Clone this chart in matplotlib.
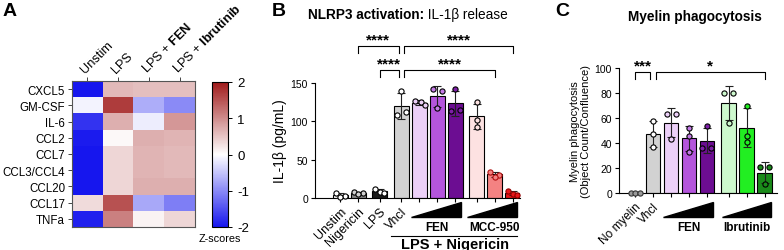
import numpy as np
import matplotlib
matplotlib.use("Agg")
import matplotlib.pyplot as plt
from matplotlib.colors import LinearSegmentedColormap
from matplotlib.patches import Polygon
import matplotlib.transforms as mtransforms

plt.rcParams['font.family'] = ['Liberation Sans', 'DejaVu Sans']
plt.rcParams['mathtext.fontset'] = 'custom'
plt.rcParams['mathtext.rm'] = 'Liberation Sans'
plt.rcParams['mathtext.bf'] = 'Liberation Sans:bold'
plt.rcParams['axes.linewidth'] = 0.8

# ---------------- data: panel A ----------------
heat_rows = ["CXCL5", "GM-CSF", "IL-6", "CCL2", "CCL7", "CCL3/CCL4", "CCL20", "CCL17", "TNFa"]
heat_cols = ["Unstim", "LPS", "LPS + $\\bf{FEN}$", "LPS + $\\bf{Ibrutinib}$"]
z_unstim = [-2.0, -0.1, -1.75, -1.95, -2.0, -2.0, -2.0, 0.3, -1.9]
z_lps = [0.6, 1.7, 0.7, 0.05, 0.35, 0.35, 0.35, 1.5, 1.1]
z_fen = [0.55, -0.7, -0.15, 0.7, 0.65, 0.65, 0.7, -0.75, 0.1]
z_ibr = [0.55, -1.0, 0.9, 0.65, 0.6, 0.6, 0.7, -1.1, 0.35]

# ---------------- data: panel B ----------------
b_labels = ["Unstim", "Nigericin", "LPS", "Vhcl", "", "", "", "", "", ""]
b_points = [
    [7, 2, 1],
    [8, 7, 5],
    [12, 8, 7],
    [139, 108, 112],
    [127, 125, 121],
    [142, 139, 117],
    [142, 113, 115],
    [125, 102, 93],
    [34, 30, 28],
    [9, 5, 4],
]
b_sig = [("****", 1, 3, "upper"), ("****", 3, 9, "upper"),
         ("****", 2, 3, "lower"), ("****", 3, 8, "lower")]

# ---------------- data: panel C ----------------
c_labels = ["No myelin", "Vhcl", "", "", "", "", "", ""]
c_points = [
    [0, 0, 0],
    [58, 47, 37],
    [63, 63, 43],
    [52, 46, 33],
    [54, 36, 36],
    [80, 80, 56],
    [70, 46, 41],
    [21, 21, 7],
]
c_sig = [("***", 0, 1), ("*", 1, 7)]

# ---------------- layout / style ----------------
W, H = 784, 251
fig = plt.figure(figsize=(W / 100, H / 100), dpi=100)


def box(x0, y0, x1, y1):
    return [x0 / W, 1 - y1 / H, (x1 - x0) / W, (y1 - y0) / H]


def fy(ypx):
    return 1 - ypx / H


# ===== Panel A =====
axA = fig.add_axes(box(72, 82, 195, 228))
cmap = LinearSegmentedColormap.from_list("zs", ["#1616ee", "#ffffff", "#a01a1a"])
Z = np.array([z_unstim, z_lps, z_fen, z_ibr]).T
im = axA.imshow(Z, cmap=cmap, vmin=-2, vmax=2, aspect="auto", interpolation="nearest")
axA.set_yticks(range(len(heat_rows)))
axA.set_yticklabels(heat_rows, fontsize=8.3)
axA.set_xticks(range(len(heat_cols)))
axA.xaxis.tick_top()
axA.set_xticklabels(heat_cols, fontsize=9.2, rotation=45, ha="left", va="bottom",
                    rotation_mode="anchor")
axA.tick_params(length=3, width=0.7, color="#444444", pad=2)
axA.tick_params(axis="x", pad=1.5)
for s in axA.spines.values():
    s.set_color("#555555")
    s.set_linewidth(0.8)

cax = fig.add_axes(box(212, 83, 228, 228))
cb = fig.colorbar(im, cax=cax, ticks=[-2, -1, 0, 1, 2])
cb.ax.tick_params(labelsize=9.5, length=3, width=0.7)
cb.ax.set_yticklabels(["-2", "-1", "0", "1", "2"])
cb.outline.set_linewidth(0.8)
fig.text(220 / W, fy(239), "Z-scores", fontsize=7.8, ha="center", va="center")
fig.text(3 / W, fy(11), "A", fontsize=14, fontweight="bold", ha="left", va="center")


def bar_panel(ax, pos, pts, bar_cols, pt_cols, pt_edge, offsets, width):
    means = [np.mean(p) for p in pts]
    sds = [np.std(p, ddof=1) for p in pts]
    for i, (x, m, s) in enumerate(zip(pos, means, sds)):
        ax.bar(x, m, width=width, color=bar_cols[i], edgecolor="black", linewidth=0.8, zorder=2)
        ax.errorbar(x, m, yerr=s, color="#222222", capsize=3, elinewidth=0.8,
                    capthick=0.8, zorder=3, fmt="none")
        ax.scatter(np.array(offsets[i]) + x, pts[i], s=14, facecolor=pt_cols[i],
                   edgecolor=pt_edge[i], linewidth=0.8, zorder=4, clip_on=False)
    return means, sds


def wedge(ax, x0, x1, y_base, y_top):
    tr = mtransforms.blended_transform_factory(ax.transData, fig.transFigure)
    p = Polygon([[x0, fy(y_base)], [x1, fy(y_base)], [x1, fy(y_top)]], closed=True,
                facecolor="black", edgecolor="black", transform=tr, clip_on=False)
    ax.add_patch(p)


# ===== Panel B =====
posB = [0, 1, 2.2, 3.4, 4.4, 5.4, 6.4, 7.6, 8.6, 9.6]
axB = fig.add_axes(box(315, 84, 520, 199))
bcols = ["#ffffff", "#8a8a8a", "#1a1a1a", "#d2d2d2", "#ecd0f8", "#b455dc", "#6c0d92",
         "#fde2e2", "#f48282", "#e8161a"]
bptc = ["#ffffff", "#d0d0d0", "#ffffff", "#ffffff", "#ecd0f8", "#c47ae6", "#7e1fa8",
        "#fde2e2", "#f48282", "#e8161a"]
bpte = ["black"] * 8 + ["#b01010", "#900000"]
offB = [[-0.25, 0.25, 0.0], [-0.25, 0.25, 0.0], [-0.25, 0.0, 0.25], [0, -0.25, 0.25],
        [-0.25, 0.1, 0.3], [-0.25, 0.25, 0], [0, -0.25, 0.25], [0, 0, 0],
        [-0.25, 0.2, 0.0], [-0.25, 0.0, 0.25]]
bar_panel(axB, posB, b_points, bcols, bptc, bpte, offB, 0.83)
axB.set_xlim(-1.39, 9.99)
axB.set_ylim(0, 150)
axB.set_yticks([0, 50, 100, 150])
axB.spines[["top", "right"]].set_visible(False)
axB.set_xticks(posB)
axB.set_xticklabels(b_labels, rotation=45, ha="right", va="top", rotation_mode="anchor",
                    fontsize=9)
axB.tick_params(axis="y", labelsize=7.5)
axB.tick_params(axis="both", length=3, width=0.8, pad=2)
axB.set_ylabel("IL-1β (pg/mL)", fontsize=10, labelpad=3)

trB = mtransforms.blended_transform_factory(axB.transData, fig.transFigure)
for txt, i0, i1, lvl in b_sig:
    yb = 47 if lvl == "upper" else 71
    x0 = posB[i0] + (0.15 if i0 == 3 else 0)
    x1 = posB[i1] - (0.15 if i1 == 3 else 0)
    axB.plot([x0, x0, x1, x1], [fy(yb + 7), fy(yb), fy(yb), fy(yb + 7)], color="black",
             lw=0.8, transform=trB, clip_on=False)
    axB.text((x0 + x1) / 2, fy(yb - 7), txt, ha="center", va="center", fontsize=11,
             fontweight="bold", transform=trB)

wedge(axB, posB[4] - 0.45, posB[6] + 0.3, 218, 203)
wedge(axB, posB[7] - 0.55, posB[9] + 0.22, 218, 203)
axB.text((posB[4] + posB[6]) / 2, fy(228), "FEN", ha="center", va="center", fontsize=8.5,
         fontweight="bold", transform=trB)
axB.text((posB[7] + posB[9]) / 2, fy(228), "MCC-950", ha="center", va="center",
         fontsize=8.5, fontweight="bold", transform=trB)
axB.plot([posB[3] - 0.55, posB[9] + 0.22], [fy(237), fy(237)], color="black", lw=0.8,
         transform=trB, clip_on=False)
axB.text((posB[3] + posB[9]) / 2 - 0.1, fy(245), "LPS + Nigericin", ha="center",
         va="center", fontsize=10.5, fontweight="bold", transform=trB)
fig.text(424 / W, fy(15), "NLRP3 activation:", fontsize=9.8, fontweight="bold",
         ha="right", va="center")
fig.text(424 / W, fy(15), " IL-1β release", fontsize=9.8, ha="left", va="center")
fig.text(272 / W, fy(11), "B", fontsize=14, fontweight="bold", ha="left", va="center")

# ===== Panel C =====
posC = [0, 1, 2, 3, 4, 5.2, 6.2, 7.2]
axC = fig.add_axes(box(619, 69, 777, 194))
ccols = ["#ffffff", "#d2d2d2", "#ecd0f8", "#b455dc", "#6c0d92", "#cdf8cd", "#22ee22",
         "#1a8a1a"]
cptc = ["#9a9a9a", "#ffffff", "#ecd0f8", "#c47ae6", "#7e1fa8", "#cdf8cd", "#22ee22",
        "#1a8a1a"]
cpte = ["#333333"] + ["black"] * 7
offC = [[-0.25, 0, 0.25], [0, 0, 0], [-0.25, 0.25, 0], [0, 0, 0], [0, -0.25, 0.25],
        [-0.25, 0.25, 0], [0, 0, 0], [-0.25, 0.25, 0]]
bar_panel(axC, posC, c_points, ccols, cptc, cpte, offC, 0.82)
axC.set_xlim(-0.89, 7.89)
axC.set_ylim(0, 100)
axC.set_yticks([0, 20, 40, 60, 80, 100])
axC.spines[["top", "right"]].set_visible(False)
axC.set_xticks(posC)
axC.set_xticklabels(c_labels, rotation=45, ha="right", va="top", rotation_mode="anchor",
                    fontsize=8.5)
axC.tick_params(axis="y", labelsize=7.5)
axC.tick_params(axis="both", length=3, width=0.8, pad=2)
axC.set_ylabel("Myelin phagocytosis\n(Object Count/Confluence)", fontsize=8,
               labelpad=3, linespacing=1.1)

trC = mtransforms.blended_transform_factory(axC.transData, fig.transFigure)
for txt, i0, i1 in c_sig:
    yb = 73
    x0 = posC[i0]
    x1 = posC[i1]
    if i1 == 1:
        x1 -= 0.15
    if i0 == 1:
        x0 += 0.15
    axC.plot([x0, x0, x1, x1], [fy(yb + 7), fy(yb), fy(yb), fy(yb + 7)], color="black",
             lw=0.8, transform=trC, clip_on=False)
    axC.text((x0 + x1) / 2, fy(yb - 7), txt, ha="center", va="center", fontsize=11,
             fontweight="bold", transform=trC)

wedge(axC, posC[2] - 0.45, posC[4] + 0.33, 218, 203)
wedge(axC, posC[5] - 0.37, posC[7] + 0.36, 218, 203)
axC.text((posC[2] + posC[4]) / 2, fy(228), "FEN", ha="center", va="center", fontsize=8.5,
         fontweight="bold", transform=trC)
axC.text((posC[5] + posC[7]) / 2, fy(228), "Ibrutinib", ha="center", va="center",
         fontsize=8.5, fontweight="bold", transform=trC)
fig.text(695 / W, fy(17), "Myelin phagocytosis", fontsize=9.8, fontweight="bold",
         ha="center", va="center")
fig.text(562 / W, fy(12), "C", fontsize=14, fontweight="bold", ha="center", va="center")

fig.savefig("out.png", dpi=100)
